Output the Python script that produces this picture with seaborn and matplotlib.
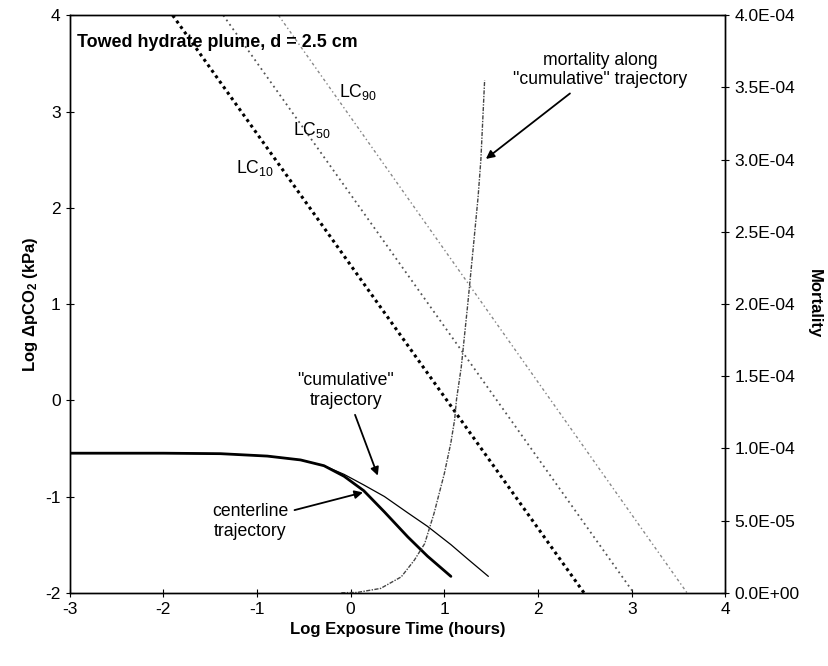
import numpy as np
import pandas as pd
import matplotlib
matplotlib.use("Agg")
import matplotlib.pyplot as plt
import seaborn as sns
from matplotlib.ticker import FuncFormatter

# trajectories (log exposure time vs log dpCO2)
center_x = [-3, -2, -1.39, -0.89, -0.535, -0.285, -0.07, 0.14, 0.36, 0.61, 0.82, 1.07]
center_y = [-0.55, -0.55, -0.555, -0.58, -0.62, -0.68, -0.79, -0.94, -1.16, -1.42, -1.62, -1.83]
cum_x = [-3, -2, -1.39, -0.89, -0.535, -0.285, -0.07, 0.14, 0.36, 0.61, 0.82, 1.07, 1.25, 1.47]
cum_y = [-0.55, -0.55, -0.555, -0.58, -0.62, -0.68, -0.77, -0.88, -1.0, -1.17, -1.31, -1.50, -1.65, -1.83]

# lethal concentration lines
lc10_x = [-1.9, 2.49]
lc50_x = [-1.36, 3.02]
lc90_x = [-0.77, 3.59]
lc_y = [4, -2]

# mortality along cumulative trajectory (right axis)
mort_x = [-0.1, 0.07, 0.32, 0.54, 0.68, 0.79, 0.89, 1.0, 1.07, 1.11, 1.13, 1.18, 1.25, 1.31, 1.36, 1.39, 1.43]
mort_y = [0, 2e-7, 3.0e-6, 1.1e-5, 2.26e-5, 3.4e-5, 5.5e-5, 8.26e-5, 1.04e-4, 1.2e-4, 1.34e-4,
          1.56e-4, 2.0e-4, 2.4e-4, 2.74e-4, 3.0e-4, 3.55e-4]

sns.set_style("ticks")
plt.rcParams['font.family'] = ['Liberation Sans', 'DejaVu Sans']
plt.rcParams['mathtext.fontset'] = 'custom'
plt.rcParams['mathtext.rm'] = 'Liberation Sans'
plt.rcParams['mathtext.bf'] = 'Liberation Sans:bold'
plt.rcParams['mathtext.it'] = 'Liberation Sans:italic'
plt.rcParams['axes.unicode_minus'] = False
plt.rcParams['text.color'] = 'black'
plt.rcParams['axes.labelcolor'] = 'black'
plt.rcParams['xtick.color'] = 'black'
plt.rcParams['ytick.color'] = 'black'

fig, ax = plt.subplots(figsize=(8.29, 6.66), dpi=100)
fig.subplots_adjust(left=0.084, right=0.875, top=0.977, bottom=0.110)

sns.lineplot(x=lc10_x, y=lc_y, ax=ax, color="black", lw=2.2, linestyle=(0, (1, 1.2)))
sns.lineplot(x=lc50_x, y=lc_y, ax=ax, color="#555555", lw=1.3, linestyle=(0, (1, 2)))
sns.lineplot(x=lc90_x, y=lc_y, ax=ax, color="#888888", lw=1.0, linestyle=(0, (2, 2, 1, 2)))
sns.lineplot(x=cum_x, y=cum_y, ax=ax, color="black", lw=0.9)
sns.lineplot(x=center_x, y=center_y, ax=ax, color="black", lw=2.0)

ax.set_xlim(-3, 4)
ax.set_ylim(-2, 4)
ax.set_xticks(range(-3, 5))
ax.set_yticks(range(-2, 5))
ax.tick_params(direction="inout", length=6, labelsize=12.5, width=0.8)
ax.set_xlabel("Log Exposure Time (hours)", fontsize=12, fontweight="bold")
ax.set_ylabel(r"Log ΔpCO$_\mathbf{2}$ (kPa)", fontsize=12, fontweight="bold")

ax2 = ax.twinx()
sns.lineplot(x=mort_x, y=mort_y, ax=ax2, color="#444444", lw=1.0, linestyle=(0, (3, 1, 1, 1)))
ax2.set_ylim(0, 4e-4)
ax2.set_yticks(np.arange(0, 4.01e-4, 0.5e-4))
ax2.yaxis.set_major_formatter(FuncFormatter(lambda v, p: "{:.1E}".format(v)))
ax2.tick_params(direction="inout", length=6, labelsize=12.5, width=0.8)
ax2.set_ylabel("Mortality", fontsize=12, fontweight="bold", rotation=270, labelpad=16)

for a in (ax, ax2):
    for s in a.spines.values():
        s.set_linewidth(1.0)
        s.set_color("black")

ax.text(-2.92, 3.72, "Towed hydrate plume, d = 2.5 cm", fontsize=12.9, fontweight="bold", va="center")
ax.text(-1.02, 2.41, r"LC$_{10}$", fontsize=12.7, ha="center", va="center")
ax.text(-0.41, 2.81, r"LC$_{50}$", fontsize=12.7, ha="center", va="center")
ax.text(0.08, 3.2, r"LC$_{90}$", fontsize=12.7, ha="center", va="center")

arrow = dict(arrowstyle="-|>", color="black", lw=1.3, mutation_scale=12)
ax.annotate("mortality along\n\"cumulative\" trajectory", xy=(1.42, 2.49), xytext=(2.66, 3.43),
            ha="center", va="center", fontsize=12.7, arrowprops=arrow)
ax.annotate("\"cumulative\"\ntrajectory", xy=(0.30, -0.81), xytext=(-0.05, 0.1),
            ha="center", va="center", fontsize=12.7, arrowprops=arrow)
ax.annotate("centerline\ntrajectory", xy=(0.16, -0.95), xytext=(-1.07, -1.26),
            ha="center", va="center", fontsize=12.7, arrowprops=arrow)

plt.savefig("out.png", dpi=100)
